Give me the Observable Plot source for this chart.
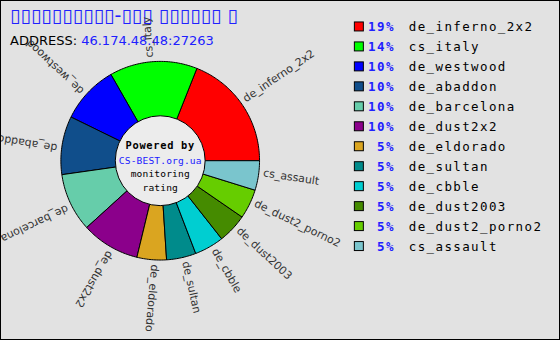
<!DOCTYPE html>
<html><head><meta charset="utf-8">
<script src="https://cdn.jsdelivr.net/npm/d3@7"></script>
<script src="https://cdn.jsdelivr.net/npm/@observablehq/plot@0.6"></script>
<style>
body{margin:0;background:#e2e2e2;}
#wrap{position:relative;width:560px;height:340px;background:#e2e2e2;box-sizing:border-box;border:1px solid #000;overflow:hidden;font-family:"DejaVu Sans",sans-serif;}
#title{position:absolute;left:9px;top:4px;color:#2020ff;font-size:19px;line-height:20px;white-space:pre;}
#addr{position:absolute;left:9px;top:33px;color:#000;font-size:13px;line-height:13px;white-space:pre;}
#addr span{color:#2020ff;}
#chart{position:absolute;left:-1px;top:-1px;}
#chart svg g[font-size="12.5"]{letter-spacing:1.4px;}
#chart svg g[font-size="10.4"]{letter-spacing:0.7px;}
#chart svg g[font-size="9.6"]{letter-spacing:0.15px;}
</style>
</head><body>
<div id="wrap">
  <div id="title"></div>
  <div id="addr"></div>
  <div id="chart"></div>
</div>
<script>
// ---- data ----
const titleText = "▯▯▯▯▯▯▯▯▯▯-▯▯▯ ▯▯▯▯▯▯ ▯";
const addressLabel = "ADDRESS: ";
const addressValue = "46.174.48.48:27263";
const maps = ["de_inferno_2x2","cs_italy","de_westwood","de_abaddon","de_barcelona","de_dust2x2","de_eldorado","de_sultan","de_cbble","de_dust2003","de_dust2_porno2","cs_assault"];
const shares = [19.0,14.3,9.5,9.5,9.5,9.5,4.8,4.8,4.8,4.8,4.8,4.8];
const percentLabels = ["19%","14%","10%","10%","10%","10%","5%","5%","5%","5%","5%","5%"];
const colors = ["#ff0000","#00ff00","#0000ff","#104e8b","#66cdaa","#8b008b","#daa520","#008b8b","#00ced1","#458b00","#66cd00","#7ac5cd"];
const centerLines = ["Powered by","CS-BEST.org.ua","monitoring","rating"];

// ---- layout ----
const W = 560, H = 340;
const CX = 160, CY = 160.5, R = 99.5, R_IN = 45, LABEL_R = 104;
const BLUE = "#2020ff";

document.getElementById("title").textContent = titleText;
const addr = document.getElementById("addr");
addr.textContent = addressLabel;
const sp = document.createElement("span"); sp.textContent = addressValue; addr.appendChild(sp);

const total = d3.sum(shares);
let acc = 0;
const slices = maps.map((name, i) => {
  const a0 = acc / total * 2 * Math.PI; acc += shares[i];
  const a1 = acc / total * 2 * Math.PI;
  return {name, i, a0, a1, mid: (a0 + a1) / 2, pct: percentLabels[i]};
});
const poly = slices.flatMap(s => {
  const pts = [{name: s.name, x: CX, y: CY}];
  const n = Math.max(2, Math.ceil((s.a1 - s.a0) / (Math.PI / 180)));
  for (let k = 0; k <= n; k++) {
    const a = s.a0 + (s.a1 - s.a0) * k / n;
    pts.push({name: s.name, x: CX + R * Math.cos(a), y: CY - R * Math.sin(a)});
  }
  pts.push({name: s.name, x: CX, y: CY});
  return pts;
});
const OFF = 3.5;
const labelX = s => CX + LABEL_R * Math.cos(s.mid) - OFF * Math.sin(s.mid);
const labelY = s => CY - LABEL_R * Math.sin(s.mid) - OFF * Math.cos(s.mid);

const LEG_SQ_X = 355, LEG_SQ = 9, LEG_TOP = 22, LEG_STEP = 20, LEG_PCT_X = 395, LEG_NAME_X = 409;
const rowY = s => LEG_TOP + LEG_SQ / 2 + LEG_STEP * s.i + 0.5;

const chart = Plot.plot({
  width: W, height: H, margin: 0,
  style: {background: "transparent", overflow: "visible"},
  x: {domain: [0, W], range: [0, W], axis: null},
  y: {domain: [0, H], range: [0, H], axis: null},
  color: {domain: maps, range: colors},
  marks: [
    Plot.line(poly, {x: "x", y: "y", z: "name", fill: "name", stroke: "#000", strokeWidth: 1, strokeLinejoin: "miter"}),
    Plot.dot([0], {x: () => CX, y: () => CY, r: R_IN, fill: "#ececec", stroke: "#000", strokeWidth: 1}),
    Plot.text(slices, {x: labelX, y: labelY, text: "name", rotate: s => -s.mid * 180 / Math.PI,
      textAnchor: "start", lineAnchor: "middle", fontSize: 11, fontFamily: "DejaVu Sans", fill: "#333"}),
    Plot.text([centerLines[0]], {x: () => CX, y: () => CY - 15, text: d => d, fontSize: 10.4, fontWeight: "bold", fontFamily: "DejaVu Sans Mono", fill: "#000"}),
    Plot.text([centerLines[1]], {x: () => CX, y: () => CY + 0.5, text: d => d, fontSize: 9.6, fontFamily: "DejaVu Sans Mono", fill: BLUE}),
    Plot.text(centerLines.slice(2), {x: () => CX, y: (d, i) => CY + 13.5 + 14 * i, text: d => d, fontSize: 9.6, fontFamily: "DejaVu Sans Mono", fill: "#000"}),
    Plot.rect(slices, {x1: () => LEG_SQ_X, x2: () => LEG_SQ_X + LEG_SQ, y1: s => LEG_TOP + LEG_STEP * s.i, y2: s => LEG_TOP + LEG_STEP * s.i + LEG_SQ, fill: "name", stroke: "#000", strokeWidth: 1}),
    Plot.text(slices, {x: () => LEG_PCT_X, y: rowY, text: "pct", textAnchor: "end", fontSize: 12.5, fontWeight: "bold", fontFamily: "DejaVu Sans Mono", fill: BLUE}),
    Plot.text(slices, {x: () => LEG_NAME_X, y: rowY, text: "name", textAnchor: "start", fontSize: 12.5, fontFamily: "DejaVu Sans Mono", fill: "#000"})
  ]
});
document.getElementById("chart").appendChild(chart);
</script>
</body></html>
